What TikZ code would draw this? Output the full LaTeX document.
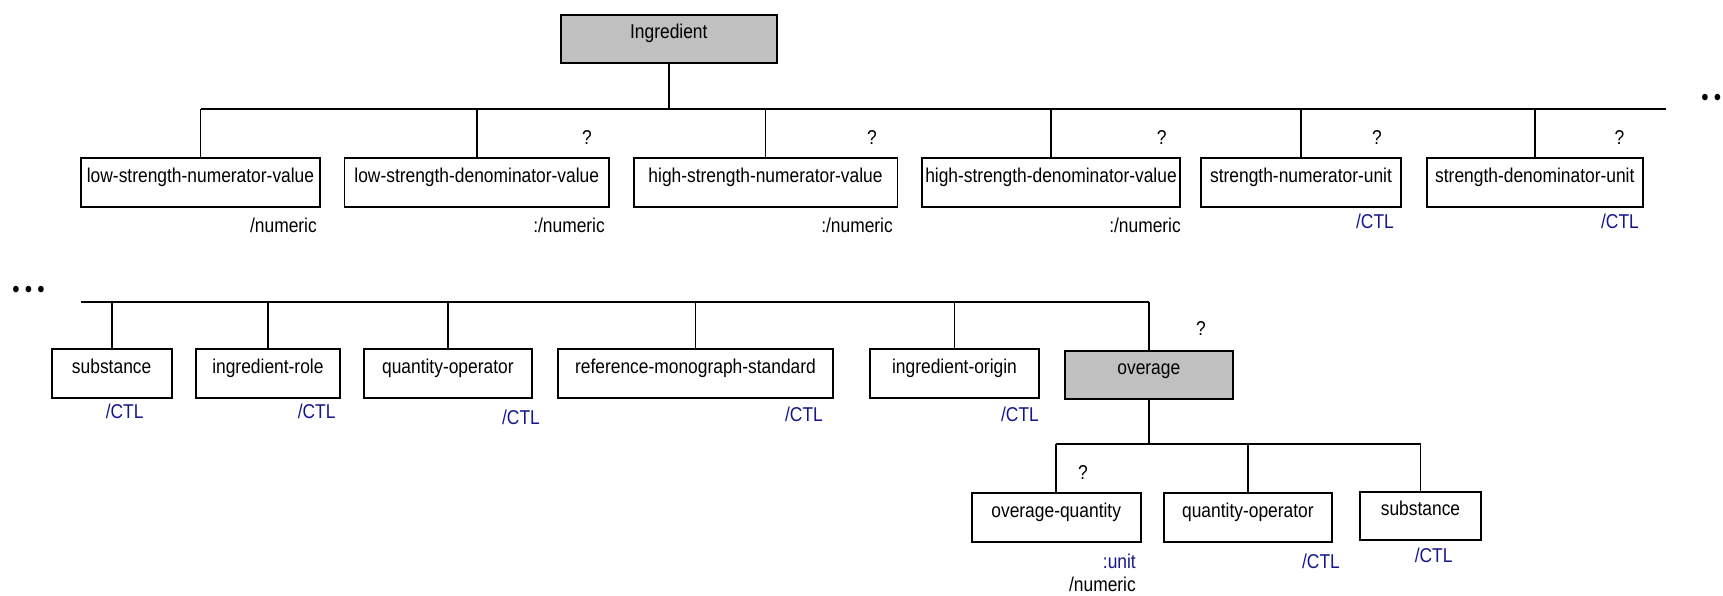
\documentclass[tikz,border=0pt]{standalone}
\usepackage{fontspec}
\setmainfont{Liberation Sans}[FakeStretch=0.87]
\definecolor{ctlblue}{RGB}{22,22,140}
\definecolor{boxgray}{RGB}{192,192,192}
\newcommand\mfnt{\fontsize{20pt}{24pt}\selectfont}
\newcommand\dfnt{\fontsize{24pt}{26pt}\selectfont}
\tikzset{
  box/.style={draw, line width=1.8pt, anchor=north, inner sep=0pt, text height=24pt, text depth=24.4pt, font=\mfnt},
  graybox/.style={box, fill=boxgray},
  bus/.style={line width=2.2pt},
  tick/.style={line width=1.9pt},
  qm/.style={anchor=base, inner sep=0pt, font=\mfnt},
  ann/.style={anchor=base east, inner sep=0pt, font=\mfnt},
  ctl/.style={ann, text=ctlblue},
  dots/.style={inner sep=0pt, font=\dfnt}
}
\begin{document}
\begin{tikzpicture}[x=1pt,y=-1pt]
\useasboundingbox (0,0) rectangle (1723,595);
% ---- Row 1 ----
\node[graybox, minimum width=216.4pt] (ing) at (668.8,14) {Ingredient};
\coordinate (bus1L) at (200.5,109.3);
\coordinate (bus1R) at (1666,109.3);
\node[box, minimum width=239pt]   (b1) at (200.5,157.3)  {low-strength-numerator-value};
\node[box, minimum width=264.5pt] (b2) at (476.75,157.3) {low-strength-denominator-value};
\node[box, minimum width=263.8pt] (b3) at (765.5,157.3)  {high-strength-numerator-value};
\node[box, minimum width=258.5pt] (b4) at (1051,157.3) {high-strength-denominator-value};
\node[box, minimum width=199.5pt] (b5) at (1301,157.3) {strength-numerator-unit};
\node[box, minimum width=215.6pt] (b6) at (1534.8,157.3) {strength-denominator-unit};
\draw[bus] (ing.south) -- (ing.south |- bus1L);
\draw[bus] (bus1L) -- (bus1R);
\foreach \n in {b1,b2,b3,b4,b5,b6} \draw[tick] (\n.north) -- (\n.north |- bus1L);
\node[qm] (q2) at (587,144) {?};
\node[qm] (q3) at (872,144) {?};
\node[qm] (q4) at (1161.6,144) {?};
\node[qm] (q5) at (1377,144) {?};
\node[qm] (q6) at (1619.5,144) {?};
\node[ann] (a1) at (317,232) {/numeric};
\node[ann] (a2) at (605,232) {:/numeric};
\node[ann] (a3) at (893,232) {:/numeric};
\node[ann] (a4) at (1181,232) {:/numeric};
\node[ctl] (a5) at (1394,228.3) {/CTL};
\node[ctl] (a6) at (1639,228.3) {/CTL};
\node[dots] (d1) at (1711.2,100) {•\hspace{5.2pt}•};
% ---- Row 2 ----
\node[dots] (d2) at (28.5,292) {•\hspace{5.2pt}•\hspace{5.2pt}•};
\coordinate (bus2L) at (80.6,301.7);
\coordinate (bus2R) at (1148.8,301.7);
\node[box, minimum width=120.1pt] (s1) at (111.65,348.3) {substance};
\node[box, minimum width=144.2pt] (r1) at (267.9,348.3) {ingredient-role};
\node[box, minimum width=168.3pt] (qo1) at (447.85,348.3) {quantity-operator};
\node[box, minimum width=275pt]   (m1) at (695.5,348.3) {reference-monograph-standard};
\node[box, minimum width=169pt]   (o1) at (954.5,348.3) {ingredient-origin};
\node[graybox, minimum width=167.6pt] (ov) at (1148.8,350) {overage};
\draw[bus] (bus2L) -- (bus2R);
\foreach \n in {s1,r1,qo1,m1,o1} \draw[tick] (\n.north) -- (\n.north |- bus2L);
\draw[bus] (ov.north) -- (bus2R);
\node[ctl] (c1) at (143.7,418) {/CTL};
\node[ctl] (c2) at (335.7,418) {/CTL};
\node[ctl] (c3) at (540,424) {/CTL};
\node[ctl] (c4) at (823,421.7) {/CTL};
\node[ctl] (c5) at (1039,421.7) {/CTL};
\node[qm] (qov) at (1201,335) {?};
% ---- Row 3 ----
\coordinate (bus3L) at (1056.2,444.3);
\coordinate (bus3R) at (1420.5,444.3);
\node[box, minimum width=169pt]   (oq) at (1056.2,492.3) {overage-quantity};
\node[box, minimum width=168.2pt] (qo2) at (1247.9,492.3) {quantity-operator};
\node[box, minimum width=121pt]   (s2) at (1420.5,490.7) {substance};
\draw[bus] (ov.south) -- (ov.south |- bus3L);
\draw[bus] (bus3L) -- (bus3R);
\foreach \n in {oq,qo2,s2} \draw[tick] (\n.north) -- (\n.north |- bus3L);
\node[qm] (qoq) at (1083,479) {?};
\node[ctl] (u1) at (1136,568) {:unit};
\node[ann] (n1) at (1136,591) {/numeric};
\node[ctl] (c6) at (1340,568) {/CTL};
\node[ctl] (c7) at (1452.7,562) {/CTL};
\end{tikzpicture}
\end{document}
